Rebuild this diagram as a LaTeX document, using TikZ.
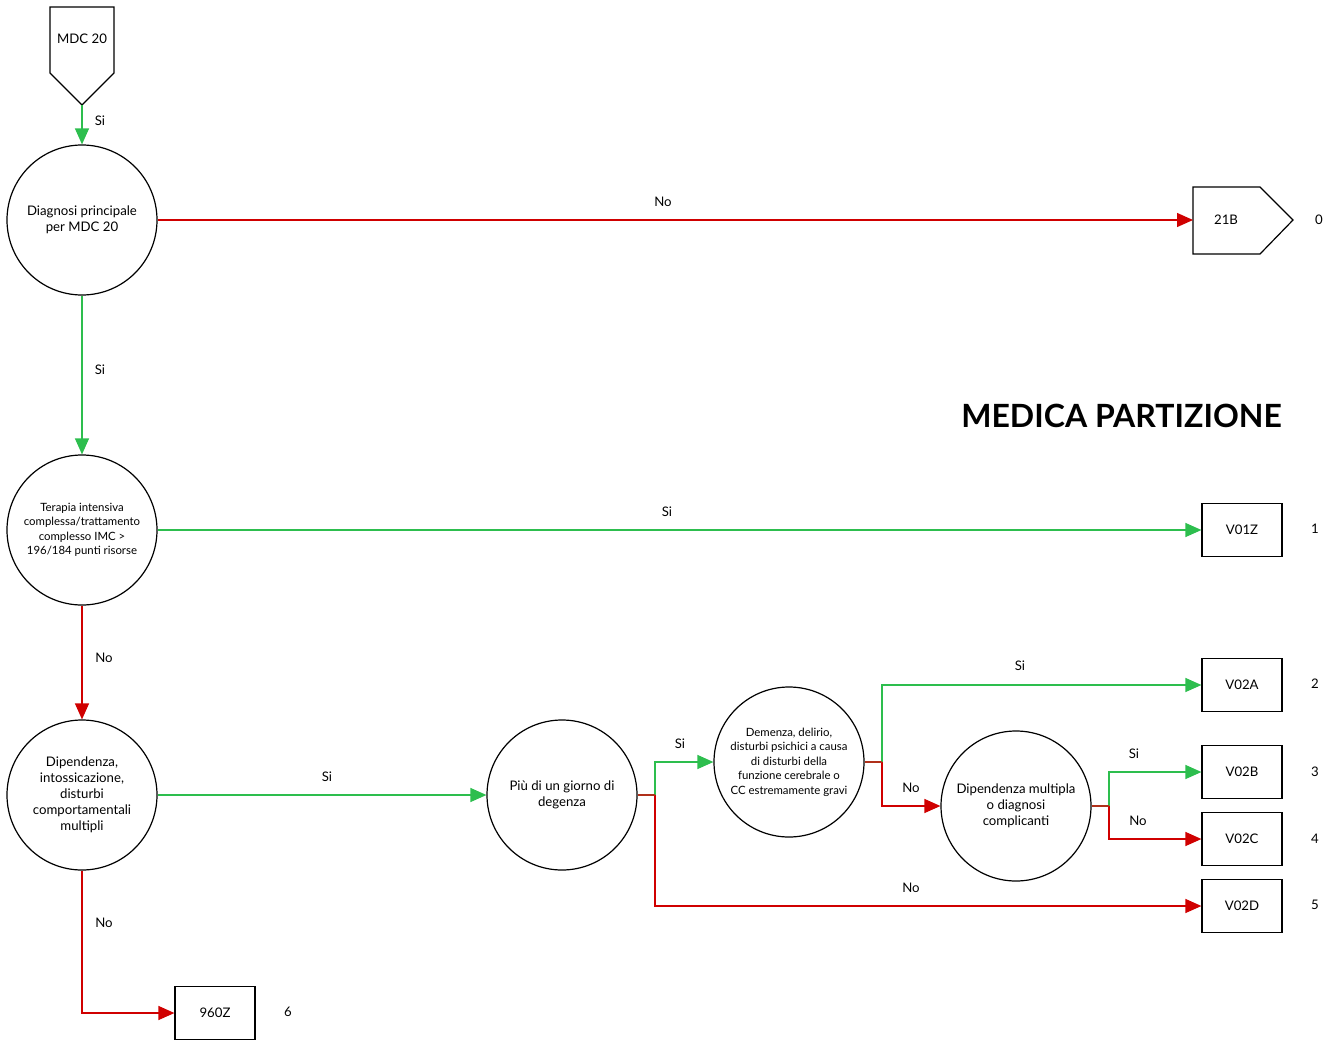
\documentclass[tikz,border=0pt]{standalone}
\usepackage{fontspec}
\setmainfont{Lato}
\usetikzlibrary{arrows.meta}
\definecolor{gr}{HTML}{2DBE4E}
\definecolor{rd}{HTML}{D00000}
\definecolor{st}{HTML}{B0301A}
\tikzset{
  circ/.style={draw, circle, line width=1.2pt, minimum size=150pt, inner sep=0pt, align=center, font=\fontsize{13.2}{16}\selectfont},
  circs/.style={circ, font=\fontsize{11.4}{14.5}\selectfont},
  box/.style={draw, line width=1.2pt, minimum width=80pt, minimum height=53pt, inner sep=0pt, font=\fontsize{13.2}{14}\selectfont},
  lab/.style={font=\fontsize{13.2}{14}\selectfont, inner sep=0pt},
  ys/.style={draw=gr, line width=1.3pt, -{Triangle[length=16pt,width=14pt]}},
  no/.style={draw=rd, line width=1.3pt, -{Triangle[length=16pt,width=14pt]}},
  stub/.style={draw=st, line width=1.3pt},
}
\begin{document}
\begin{tikzpicture}[x=1pt,y=-1pt]
\useasboundingbox (0,0) rectangle (1343,1046);
% MDC 20 pentagon
\draw[line width=1.2pt] (50,7) -- (114,7) -- (114,73) -- (82,105) -- (50,73) -- cycle;
\node[lab] (mdc) at (82,39) {MDC 20};
\coordinate (mdcb) at (82,105);
% 21B pentagon
\draw[line width=1.2pt] (1193,187) -- (1260,187) -- (1293,220) -- (1260,254) -- (1193,254) -- cycle;
\node[lab] (b21) at (1226,220) {21B};
\coordinate (b21l) at (1193,220);
\node[lab] (n0) at (1319,220) {0};
% title
\node[font=\fontsize{32}{36}\bfseries\selectfont, anchor=east, inner sep=0pt] (title) at (1282,416) {MEDICA PARTIZIONE};
% circles
\node[circ] (c1) at (82,220) {Diagnosi principale\\per MDC 20};
\node[circs] (c2) at (82,530) {Terapia intensiva\\complessa/trattamento\\complesso IMC >\\196/184 punti risorse};
\node[circ] (c3) at (82,795) {Dipendenza,\\intossicazione,\\disturbi\\comportamentali\\multipli};
\node[circ] (c4) at (562,795) {Più di un giorno di\\degenza};
\node[circs] (c5) at (789,762) {Demenza, delirio,\\disturbi psichici a causa\\di disturbi della\\funzione cerebrale o\\CC estremamente gravi};
\node[circ] (c6) at (1016,806) {Dipendenza multipla\\o diagnosi\\complicanti};
% boxes
\node[box] (v01z) at (1242,530) {V01Z};
\node[box] (v02a) at (1242,685) {V02A};
\node[box] (v02b) at (1242,772) {V02B};
\node[box] (v02c) at (1242,839) {V02C};
\node[box] (v02d) at (1242,906) {V02D};
\node[box] (z960) at (215,1013) {960Z};
\node[lab] (n1) at (1315,529) {1};
\node[lab] (n2) at (1315,684) {2};
\node[lab] (n3) at (1315,772) {3};
\node[lab] (n4) at (1315,839) {4};
\node[lab] (n5) at (1315,905) {5};
\node[lab] (n6) at (288,1012) {6};
% split points
\coordinate (s4) at (655,795);
\coordinate (s5) at (882,762);
\coordinate (s6) at (1109,806);
% connectors
\draw[ys] (mdcb) -- (c1.north);
\node[lab] at (100,121) {Si};
\draw[no] (c1.east) -- (b21l);
\node[lab] at (663,202) {No};
\draw[ys] (c1.south) -- (c2.north);
\node[lab] at (100,370) {Si};
\draw[ys] (c2.east) -- (v01z.west);
\node[lab] at (667,512) {Si};
\draw[no] (c2.south) -- (c3.north);
\node[lab] at (104,658) {No};
\draw[ys] (c3.east) -- (c4.west);
\node[lab] at (327,777) {Si};
\draw[no] (c3.south) |- (z960.west);
\node[lab] at (104,923) {No};
% from c4
\draw[ys] (s4) |- (c5.west);
\draw[no] (s4) |- (v02d.west);
\draw[stub] (c4.east) -- (s4);
\node[lab] at (680,744) {Si};
\node[lab] at (911,888) {No};
% from c5
\draw[ys] (s5) |- (v02a.west);
\draw[no] (s5) |- (c6.west);
\draw[stub] (c5.east) -- (s5);
\node[lab] at (1020,666) {Si};
\node[lab] at (911,788) {No};
% from c6
\draw[ys] (s6) |- (v02b.west);
\draw[no] (s6) |- (v02c.west);
\draw[stub] (c6.east) -- (s6);
\node[lab] at (1134,754) {Si};
\node[lab] at (1138,821) {No};
\end{tikzpicture}
\end{document}
